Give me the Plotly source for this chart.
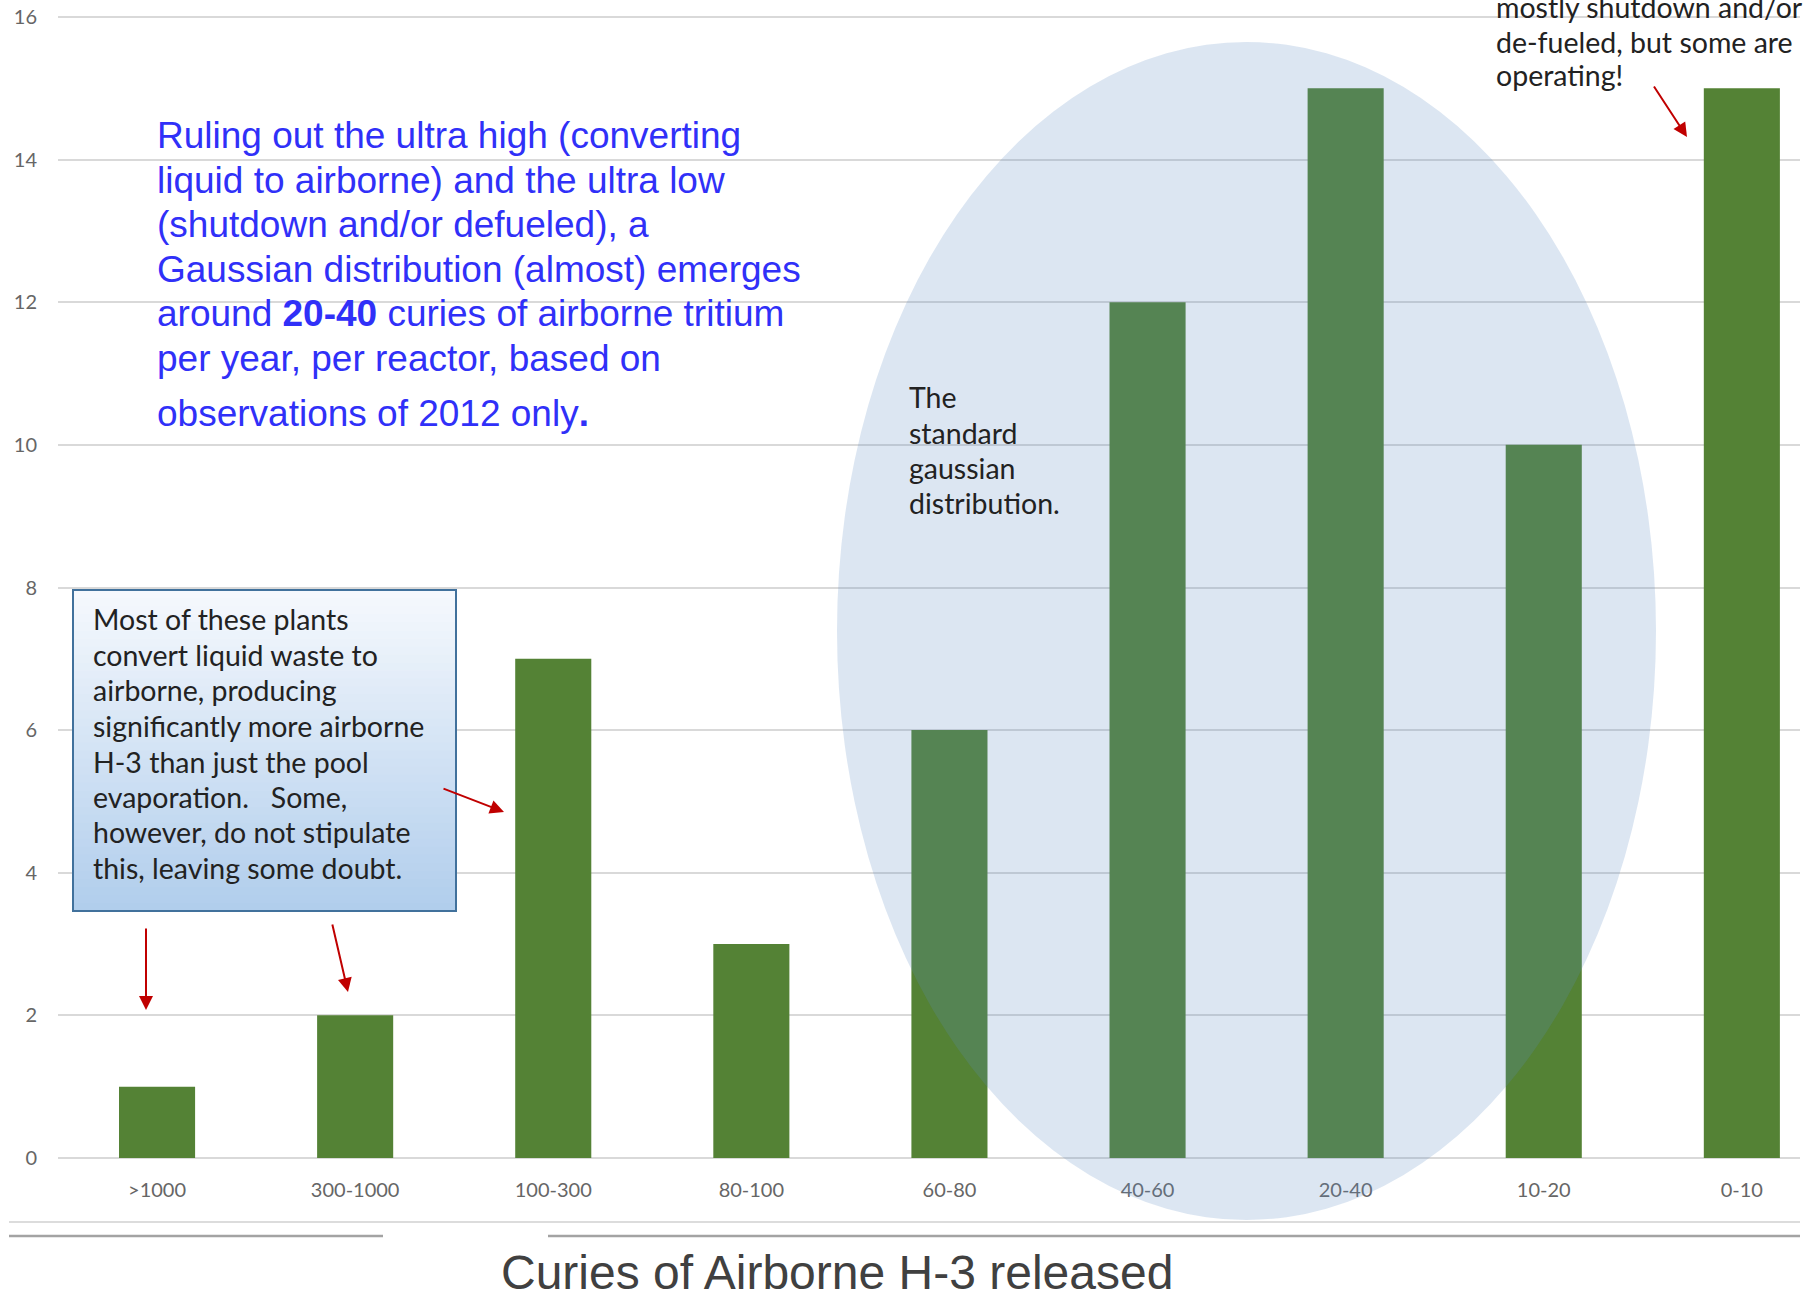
import plotly.graph_objects as go

# Reactor count per release band (curies of airborne H-3 per year)
release_bands = [">1000", "300-1000", "100-300", "80-100", "60-80",
                 "40-60", "20-40", "10-20", "0-10"]
reactor_counts = [1, 2, 7, 3, 6, 12, 15, 10, 15]
y_tick_values = [0, 2, 4, 6, 8, 10, 12, 14, 16]

W, H = 1818, 1300
PLOT_L, PLOT_R, PLOT_T, PLOT_B = 58, 1800, 15, 1160
PX_PER_UNIT = (1158 - 17) / 16.0
Y_LO = -(PLOT_B - 1158) / PX_PER_UNIT
Y_HI = 16 + (17 - PLOT_T) / PX_PER_UNIT
CAT_PX = 198.1
X_HI = -0.5 + (PLOT_R - PLOT_L) / CAT_PX


def px(x):
    return (x - PLOT_L) / (PLOT_R - PLOT_L)


def py(y):
    return (PLOT_B - y) / (PLOT_B - PLOT_T)


fig = go.Figure(
    go.Bar(
        x=release_bands,
        y=reactor_counts,
        marker=dict(color="#548235", line=dict(width=0)),
        hoverinfo="skip",
    )
)

shapes = []

# gaussian ellipse tinting the middle bands
shapes.append(dict(type="circle", xref="paper", yref="paper", layer="above",
                   x0=px(837), x1=px(1656), y0=py(1220), y1=py(42),
                   fillcolor="rgba(92,139,194,0.215)", line=dict(width=0)))

# callout box with a vertical white-to-blue gradient
BOX_L, BOX_R, BOX_T, BOX_B = 73, 456, 590, 911
top_rgb = (246, 249, 253)
bot_rgb = (176, 205, 236)
n_strips = 40
for i in range(n_strips):
    t = (i + 0.5) / n_strips
    c = tuple(round(a + (b - a) * t) for a, b in zip(top_rgb, bot_rgb))
    y0 = BOX_T + (BOX_B - BOX_T) * i / n_strips
    y1 = BOX_T + (BOX_B - BOX_T) * (i + 1) / n_strips + 0.6
    shapes.append(dict(type="rect", xref="paper", yref="paper", layer="above",
                       x0=px(BOX_L), x1=px(BOX_R), y0=py(y1), y1=py(y0),
                       fillcolor="rgb(%d,%d,%d)" % c, line=dict(width=0)))
shapes.append(dict(type="rect", xref="paper", yref="paper", layer="above",
                   x0=px(BOX_L), x1=px(BOX_R), y0=py(BOX_B), y1=py(BOX_T),
                   fillcolor="rgba(0,0,0,0)", line=dict(color="#41719c", width=2)))

# separator rules under the category labels
shapes.append(dict(type="line", xref="paper", yref="paper",
                   x0=px(9), x1=px(1800), y0=py(1222), y1=py(1222),
                   line=dict(color="#dcdcdc", width=2)))
shapes.append(dict(type="line", xref="paper", yref="paper",
                   x0=px(9), x1=px(383), y0=py(1236), y1=py(1236),
                   line=dict(color="#a3a3a3", width=2.5)))
shapes.append(dict(type="line", xref="paper", yref="paper",
                   x0=px(548), x1=px(1800), y0=py(1236), y1=py(1236),
                   line=dict(color="#a3a3a3", width=2.5)))

annotations = []


def note(text, x, y, size, color, family, xanchor="left"):
    annotations.append(dict(xref="paper", yref="paper", x=px(x), y=py(y),
                            text=text, showarrow=False, xanchor=xanchor,
                            yanchor="middle", align="left",
                            font=dict(size=size, color=color, family=family)))


BLUE = "#3030f8"
ARIAL = "Liberation Sans, Arial, sans-serif"
CAL = "Lato, Carlito, sans-serif"
DARK = "#222222"
NOTE_SIZE = 28.5

blue_lines = [
    "Ruling out the ultra high (converting",
    "liquid to airborne) and the ultra low",
    "(shutdown and/or defueled), a",
    "Gaussian distribution (almost) emerges",
    "around <b>20-40</b> curies of airborne tritium",
    "per year, per reactor, based on",
    "observations of 2012 only<b>.</b>",
]
blue_y = [135, 180.5, 225, 269, 313, 358, 413]
for line, y in zip(blue_lines, blue_y):
    note(line, 155, y, 37, BLUE, ARIAL)

box_lines = [
    "Most of these plants",
    "convert liquid waste to",
    "airborne, producing",
    "significantly more airborne",
    "H-3 than just the pool",
    "evaporation.\u00a0\u00a0 Some,",
    "however, do not stipulate",
    "this, leaving some doubt.",
]
box_y = [619, 655, 690, 726, 761.5, 797, 832.5, 868]
for line, y in zip(box_lines, box_y):
    note(line, 91, y, NOTE_SIZE, DARK, CAL)

gauss_lines = ["The", "standard", "gaussian", "distribution."]
gauss_y = [397, 433, 468, 503]
for line, y in zip(gauss_lines, gauss_y):
    note(line, 907, y, NOTE_SIZE, DARK, CAL)

low_lines = ["mostly shutdown and/or", "de-fueled, but some are", "operating!"]
low_y = [7, 41.5, 75]
for line, y in zip(low_lines, low_y):
    note(line, 1494, y, NOTE_SIZE, DARK, CAL)

note("Curies of Airborne H-3 released", 837, 1272, 48, "#404040", ARIAL,
     xanchor="center")

# red pointer arrows: (tail, tip) in page pixels
arrows = [
    ((146, 927), (146, 1010)),
    ((332, 923), (348, 992)),
    ((442, 788), (504, 812)),
    ((1653, 85), (1687, 137)),
]
for (tx, ty), (hx, hy) in arrows:
    annotations.append(dict(xref="paper", yref="paper", x=px(hx), y=py(hy),
                            ax=tx - hx, ay=ty - hy, axref="pixel", ayref="pixel",
                            text="", showarrow=True, arrowhead=2, arrowsize=1.4,
                            arrowwidth=2, arrowcolor="#c00000", standoff=0))

TICK_FONT = dict(family=CAL, size=20, color="#666666")

fig.update_layout(
    width=W, height=H,
    margin=dict(l=PLOT_L, r=W - PLOT_R, t=PLOT_T, b=H - PLOT_B, pad=0,
                autoexpand=False),
    paper_bgcolor="white", plot_bgcolor="white",
    bargap=0.616,
    showlegend=False,
    shapes=shapes,
    annotations=annotations,
    xaxis=dict(type="category", range=[-0.5, X_HI], showgrid=False,
               showline=False, zeroline=False, ticks="", tickfont=TICK_FONT,
               ticklabelstandoff=16, automargin=False, fixedrange=True),
    yaxis=dict(range=[Y_LO, Y_HI], tickvals=y_tick_values, showgrid=True,
               gridcolor="#d9d9d9", gridwidth=1.5, zeroline=False,
               showline=False, ticks="", tickfont=TICK_FONT,
               ticklabelstandoff=20, automargin=False, fixedrange=True),
)

fig.write_html("out.html")
